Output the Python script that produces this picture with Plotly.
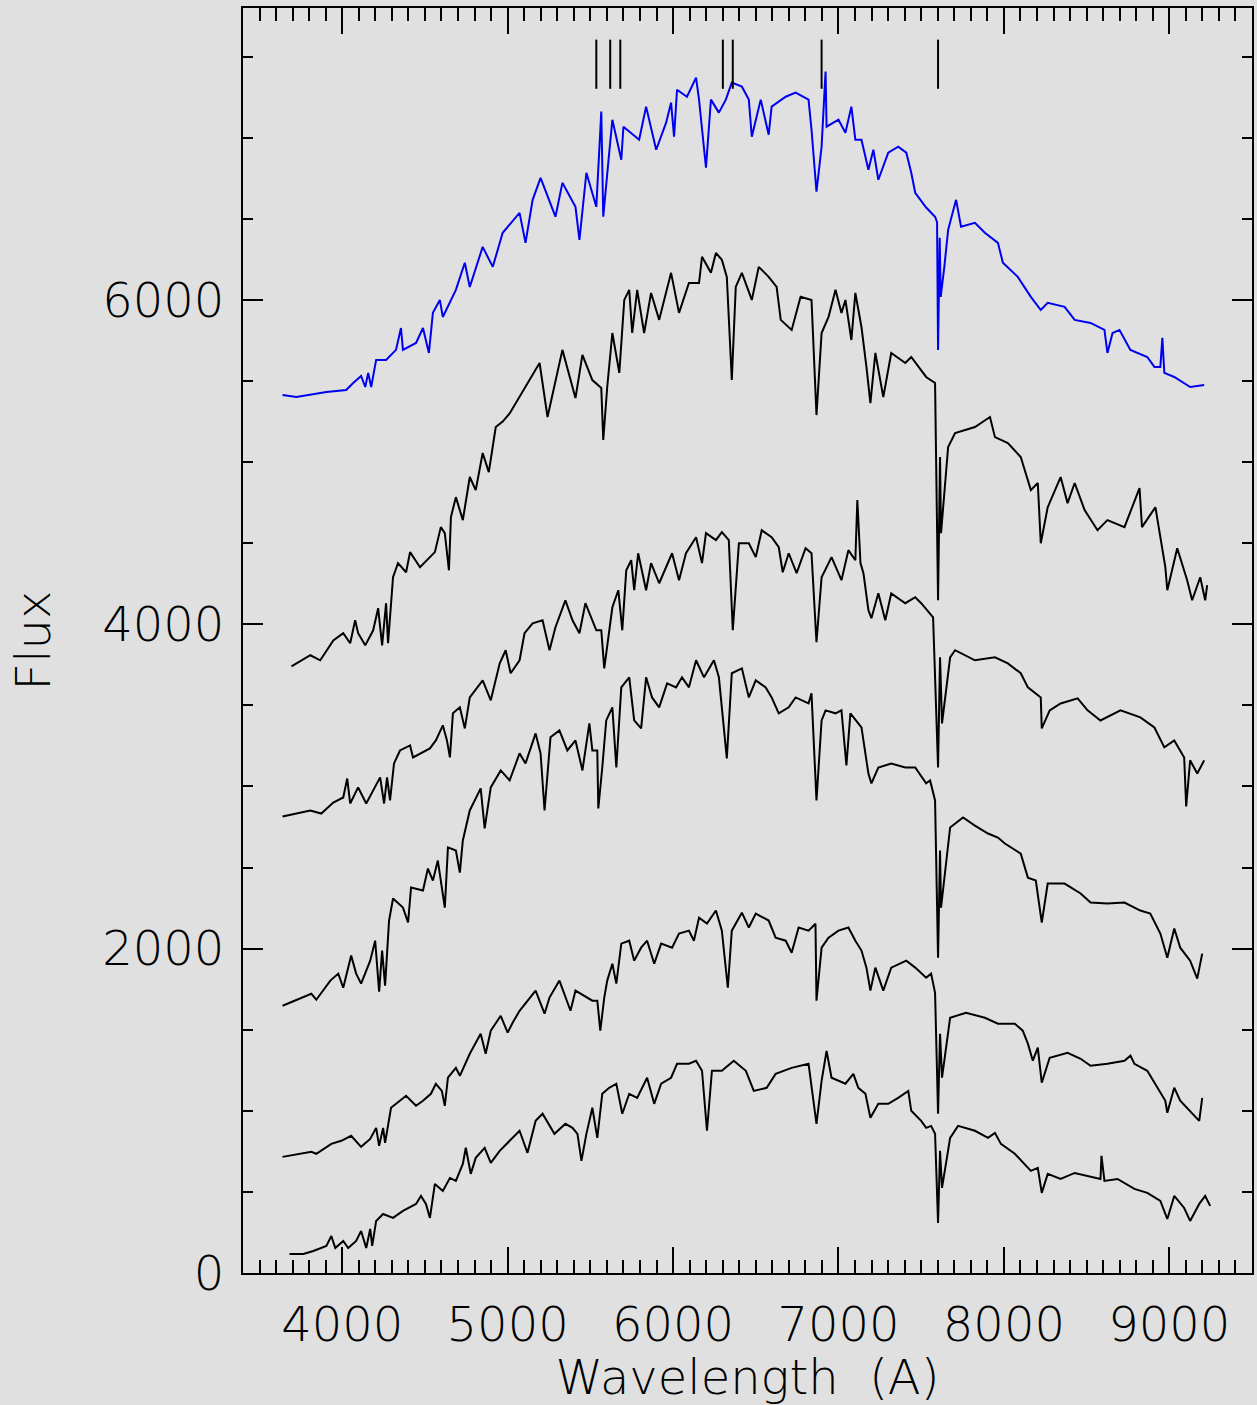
import plotly.graph_objects as go

# ---------------- data ----------------
wl_blue = [3639, 3723, 3904, 4024, 4066, 4114, 4139, 4157, 4175, 4205, 4265, 4325, 4355, 4367, 4446,
           4488, 4524, 4548, 4590, 4608, 4687, 4741, 4771, 4849, 4910, 4970, 5072, 5108, 5151, 5199,
           5289, 5331, 5410, 5434, 5476, 5536, 5566, 5578, 5614, 5633, 5687, 5700, 5795, 5837, 5898,
           5958, 5988, 6006, 6024, 6084, 6139, 6157, 6199, 6229, 6277, 6319, 6355, 6416, 6458, 6476,
           6530, 6578, 6596, 6681, 6741, 6819, 6837, 6867, 6898, 6922, 6928, 7000, 7042, 7078, 7102,
           7139, 7181, 7211, 7241, 7301, 7361, 7410, 7440, 7464, 7530, 7584, 7596, 7602, 7612, 7618,
           7640, 7663, 7711, 7741, 7825, 7885, 7964, 7994, 8084, 8163, 8223, 8265, 8367, 8428, 8524,
           8608, 8626, 8657, 8699, 8765, 8867, 8910, 8946, 8958, 8970, 9030, 9126, 9211]
flux_blue = [5414, 5401, 5432, 5445, 5488, 5531, 5463, 5550, 5463, 5630, 5630, 5692, 5827, 5692, 5735,
             5827, 5673, 5920, 6000, 5895, 6062, 6229, 6080, 6327, 6204, 6414, 6537, 6352, 6617, 6753,
             6513, 6722, 6574, 6370, 6784, 6574, 7161, 6513, 6908, 7111, 6864, 7068, 6988, 7192, 6926,
             7093, 7216, 7006, 7296, 7253, 7371, 7235, 6815, 7235, 7155, 7235, 7340, 7315, 7235, 7006,
             7235, 7019, 7192, 7253, 7278, 7235, 7050, 6667, 6945, 7408, 7068, 7111, 7031, 7192, 6988,
             6988, 6803, 6926, 6741, 6908, 6945, 6908, 6784, 6661, 6570, 6513, 6480, 5692, 6383, 6019,
             6204, 6432, 6617, 6451, 6475, 6414, 6352, 6229, 6142, 6019, 5938, 5982, 5957, 5877, 5858,
             5815, 5673, 5796, 5815, 5692, 5648, 5587, 5587, 5766, 5550, 5525, 5463, 5475]

wl_s1 = [3693, 3807, 3867, 3946, 4006, 4048, 4078, 4096, 4139, 4187, 4217, 4241, 4265, 4277, 4307,
         4337, 4386, 4410, 4470, 4560, 4596, 4620, 4645, 4657, 4687, 4729, 4771, 4807, 4849, 4886,
         4928, 4970, 5012, 5193, 5241, 5331, 5410, 5452, 5512, 5566, 5578, 5602, 5633, 5675, 5705,
         5735, 5753, 5783, 5825, 5867, 5916, 5988, 6036, 6096, 6157, 6175, 6229, 6259, 6295, 6325,
         6355, 6379, 6416, 6476, 6518, 6578, 6626, 6651, 6717, 6771, 6837, 6867, 6898, 6940, 6982,
         7018, 7042, 7078, 7102, 7139, 7169, 7193, 7223, 7271, 7319, 7404, 7440, 7530, 7584, 7602,
         7614, 7620, 7663, 7705, 7825, 7916, 7946, 8024, 8102, 8163, 8205, 8223, 8265, 8343, 8385,
         8428, 8488, 8566, 8626, 8729, 8820, 8835, 8916, 8946, 8976, 8988, 9048, 9108, 9138, 9187,
         9217, 9229]
flux_s1 = [3741, 3809, 3778, 3901, 3945, 3883, 4025, 3945, 3870, 3963, 4099, 3870, 4130, 3883, 4290,
           4377, 4321, 4445, 4352, 4445, 4599, 4562, 4333, 4661, 4784, 4642, 4908, 4827, 5056, 4938,
           5216, 5250, 5300, 5611, 5278, 5692, 5395, 5661, 5506, 5457, 5136, 5463, 5796, 5550, 6000,
           6062, 5796, 6062, 5796, 6043, 5877, 6167, 5920, 6105, 6105, 6266, 6167, 6290, 6247, 6142,
           5506, 6080, 6167, 6000, 6204, 6142, 6080, 5877, 5815, 6019, 6000, 5290, 5796, 5895, 6062,
           5920, 6000, 5753, 6043, 5833, 5587, 5364, 5673, 5401, 5673, 5611, 5648, 5525, 5488, 4148,
           5031, 4562, 5093, 5179, 5216, 5278, 5154, 5117, 5031, 4827, 4871, 4500, 4722, 4908, 4747,
           4871, 4704, 4580, 4642, 4599, 4840, 4599, 4722, 4537, 4352, 4210, 4469, 4272, 4148, 4290,
           4148, 4241]

wl_s2 = [3639, 3723, 3807, 3873, 3946, 4006, 4030, 4048, 4096, 4145, 4199, 4229, 4253, 4271, 4289,
         4313, 4349, 4410, 4428, 4530, 4566, 4608, 4633, 4651, 4669, 4711, 4741, 4771, 4849, 4898,
         4952, 4988, 5018, 5072, 5102, 5151, 5211, 5253, 5289, 5349, 5392, 5434, 5470, 5536, 5566,
         5584, 5633, 5669, 5693, 5717, 5747, 5765, 5789, 5837, 5867, 5916, 5994, 6036, 6078, 6139,
         6175, 6199, 6259, 6295, 6337, 6361, 6398, 6458, 6500, 6536, 6596, 6639, 6663, 6699, 6747,
         6801, 6837, 6867, 6898, 6958, 7018, 7060, 7102, 7114, 7133, 7151, 7181, 7199, 7241, 7283,
         7319, 7404, 7464, 7500, 7572, 7602, 7614, 7626, 7675, 7705, 7825, 7946, 8024, 8102, 8145,
         8223, 8229, 8277, 8343, 8446, 8506, 8584, 8705, 8825, 8910, 8970, 9030, 9090, 9102, 9126,
         9169, 9211]
flux_s2 = [2815, 2833, 2852, 2833, 2901, 2932, 3049, 2895, 2994, 2895, 2994, 3056, 2895, 3056, 2914,
           3142, 3222, 3253, 3179, 3235, 3284, 3377, 3284, 3179, 3451, 3488, 3358, 3549, 3654, 3531,
           3759, 3840, 3698, 3778, 3945, 4006, 4025, 3840, 3982, 4148, 4025, 3945, 4130, 3963, 3963,
           3728, 4105, 4210, 3963, 4333, 4395, 4210, 4438, 4210, 4377, 4253, 4438, 4272, 4438, 4537,
           4377, 4562, 4519, 4568, 4519, 3963, 4500, 4500, 4414, 4580, 4537, 4475, 4321, 4438, 4315,
           4469, 4438, 3889, 4290, 4414, 4272, 4457, 4395, 4766, 4377, 4315, 4087, 4037, 4191, 4025,
           4191, 4130, 4167, 4130, 4043, 3117, 3796, 3389, 3796, 3840, 3778, 3796, 3759, 3698, 3611,
           3549, 3358, 3469, 3512, 3543, 3469, 3407, 3469, 3426, 3364, 3241, 3284, 3179, 2877, 3161,
           3080, 3161]

wl_s3 = [3639, 3747, 3813, 3843, 3928, 3976, 4006, 4054, 4084, 4114, 4169, 4199, 4223, 4241, 4259,
         4283, 4307, 4367, 4398, 4416, 4488, 4518, 4548, 4578, 4620, 4639, 4687, 4711, 4729, 4771,
         4837, 4861, 4898, 4958, 5012, 5072, 5108, 5169, 5199, 5223, 5259, 5313, 5361, 5410, 5452,
         5494, 5512, 5542, 5548, 5572, 5596, 5633, 5657, 5687, 5735, 5765, 5807, 5837, 5873, 5916,
         5964, 6018, 6054, 6096, 6139, 6187, 6247, 6277, 6325, 6355, 6416, 6458, 6500, 6560, 6596,
         6639, 6699, 6741, 6819, 6837, 6867, 6898, 6922, 6982, 7018, 7048, 7072, 7139, 7181, 7199,
         7241, 7319, 7404, 7464, 7530, 7554, 7584, 7602, 7614, 7620, 7675, 7753, 7825, 7904, 7964,
         8006, 8102, 8145, 8193, 8229, 8265, 8367, 8464, 8524, 8626, 8729, 8825, 8885, 8946, 8988,
         9030, 9066, 9126, 9169, 9199]
flux_s3 = [1648, 1691, 1722, 1685, 1803, 1846, 1759, 1957, 1846, 1784, 1926, 2049, 1735, 1988, 1772,
           2173, 2309, 2253, 2161, 2377, 2358, 2494, 2420, 2543, 2253, 2624, 2605, 2469, 2667, 2852,
           2988, 2741, 2994, 3099, 3037, 3204, 3142, 3327, 3204, 2852, 3303, 3346, 3222, 3284, 3099,
           3389, 3222, 3222, 2864, 3117, 3407, 3488, 3117, 3611, 3673, 3407, 3358, 3673, 3549, 3488,
           3636, 3611, 3673, 3611, 3778, 3673, 3778, 3673, 3173, 3698, 3728, 3549, 3654, 3611, 3549,
           3451, 3488, 3549, 3512, 3574, 2914, 3407, 3469, 3451, 3469, 3130, 3451, 3364, 3080, 3019,
           3117, 3142, 3117, 3117, 3019, 3037, 2914, 1944, 2605, 2253, 2747, 2809, 2759, 2710, 2685,
           2648, 2586, 2438, 2420, 2161, 2401, 2401, 2340, 2284, 2278, 2284, 2235, 2216, 2093, 1944,
           2124, 2006, 1926, 1815, 1969]

wl_s4 = [3639, 3747, 3813, 3843, 3934, 3994, 4054, 4114, 4169, 4205, 4223, 4247, 4259, 4295, 4325,
         4386, 4446, 4488, 4536, 4566, 4602, 4620, 4639, 4687, 4711, 4771, 4837, 4867, 4898, 4958,
         5000, 5030, 5072, 5108, 5169, 5223, 5253, 5313, 5380, 5410, 5476, 5512, 5542, 5560, 5584,
         5602, 5633, 5657, 5687, 5735, 5765, 5807, 5843, 5886, 5928, 5994, 6036, 6096, 6126, 6157,
         6205, 6259, 6277, 6295, 6331, 6355, 6416, 6458, 6500, 6578, 6620, 6681, 6717, 6759, 6819,
         6861, 6867, 6898, 6940, 7000, 7060, 7102, 7139, 7169, 7193, 7223, 7271, 7319, 7410, 7464,
         7530, 7560, 7584, 7602, 7614, 7626, 7675, 7771, 7885, 7964, 8066, 8114, 8145, 8175, 8205,
         8229, 8277, 8385, 8464, 8524, 8626, 8729, 8765, 8789, 8867, 8928, 8976, 8988, 9030, 9066,
         9126, 9181, 9199]
flux_s4 = [716, 735, 747, 735, 796, 815, 846, 778, 827, 895, 784, 895, 802, 1019, 1043,
           1093, 1031, 1062, 1105, 1167, 1123, 1031, 1204, 1265, 1216, 1352, 1475, 1352, 1494, 1586,
           1482, 1543, 1617, 1661, 1741, 1599, 1698, 1803, 1617, 1741, 1698, 1679, 1679, 1494, 1698,
           1803, 1907, 1784, 2031, 2049, 1926, 2006, 2049, 1907, 2031, 2006, 2093, 2111, 2049, 2191,
           2154, 2235, 2173, 2111, 1759, 2111, 2222, 2130, 2216, 2173, 2068, 2049, 1975, 2130, 2111,
           2154, 1679, 2006, 2068, 2111, 2130, 2049, 1988, 1883, 1741, 1883, 1741, 1883, 1926, 1883,
           1821, 1846, 1728, 982, 1475, 1204, 1574, 1605, 1574, 1537, 1537, 1494, 1414, 1309, 1389,
           1173, 1327, 1358, 1321, 1278, 1290, 1309, 1340, 1290, 1247, 1142, 1062, 988, 1142, 1062,
           1000, 938, 1080]

wl_s5 = [3681, 3765, 3825, 3904, 3934, 3958, 4006, 4036, 4084, 4114, 4145, 4169, 4181, 4205, 4247,
         4307, 4367, 4446, 4476, 4506, 4530, 4560, 4608, 4651, 4687, 4729, 4747, 4777, 4807, 4861,
         4898, 4952, 5012, 5072, 5120, 5169, 5211, 5283, 5349, 5392, 5422, 5446, 5476, 5512, 5542,
         5572, 5614, 5657, 5693, 5735, 5783, 5843, 5886, 5928, 5988, 6024, 6096, 6139, 6175, 6205,
         6235, 6295, 6367, 6440, 6488, 6566, 6620, 6717, 6819, 6867, 6898, 6928, 6958, 7042, 7090,
         7120, 7163, 7193, 7241, 7301, 7361, 7422, 7440, 7500, 7530, 7560, 7584, 7602, 7614, 7626,
         7675, 7723, 7825, 7904, 7946, 7982, 8066, 8126, 8163, 8205, 8229, 8265, 8343, 8428, 8506,
         8584, 8590, 8608, 8687, 8789, 8867, 8946, 8988, 9030, 9090, 9126, 9181, 9217, 9247]
flux_s5 = [117, 117, 136, 167, 228, 154, 198, 154, 198, 259, 154, 272, 167, 321, 364,
           340, 383, 426, 475, 426, 340, 549, 506, 586, 568, 673, 772, 611, 710, 772,
           679, 753, 815, 877, 741, 938, 982, 858, 920, 895, 858, 691, 858, 1019, 833,
           1105, 1142, 1167, 982, 1105, 1080, 1204, 1043, 1167, 1204, 1290, 1290, 1309, 1247, 877,
           1247, 1247, 1309, 1247, 1123, 1142, 1228, 1265, 1290, 920, 1185, 1370, 1204, 1167, 1228,
           1142, 1105, 957, 1043, 1043, 1080, 1123, 1000, 938, 895, 907, 858, 309, 753, 525,
           833, 907, 877, 833, 864, 796, 735, 673, 630, 648, 494, 611, 580, 617, 599,
           580, 722, 568, 580, 519, 494, 444, 333, 475, 401, 321, 426, 475, 414]

# positions of the identified features marked above the spectra
feature_wl = [5536, 5620, 5681, 6301, 6361, 6898, 7602]
feature_flux_range = [7302, 7605]

x_range = [3400, 9500]
y_range = [0, 7800]

# ---------------- figure ----------------
fig = go.Figure()

black_sets = [(wl_s1, flux_s1), (wl_s2, flux_s2), (wl_s3, flux_s3),
              (wl_s4, flux_s4), (wl_s5, flux_s5)]
for wl, fl in black_sets:
    fig.add_trace(go.Scatter(x=wl, y=fl, mode="lines",
                             line=dict(color="black", width=2),
                             showlegend=False, hoverinfo="skip"))

fig.add_trace(go.Scatter(x=wl_blue, y=flux_blue, mode="lines",
                         line=dict(color="#0000f0", width=2),
                         showlegend=False, hoverinfo="skip"))

mx, my = [], []
for w in feature_wl:
    mx += [w, w, None]
    my += [feature_flux_range[0], feature_flux_range[1], None]
fig.add_trace(go.Scatter(x=mx, y=my, mode="lines",
                         line=dict(color="black", width=2),
                         showlegend=False, hoverinfo="skip"))

bg = "#e0e0e0"
tick_font = dict(family="DejaVu Sans", size=48, color="black", weight=200)

fig.update_layout(
    width=1257, height=1405,
    margin=dict(l=243, r=3, t=8, b=132),
    paper_bgcolor=bg, plot_bgcolor=bg,
    showlegend=False,
)

fig.update_xaxes(
    range=x_range, showgrid=False, zeroline=False,
    showline=True, linecolor="black", linewidth=2, mirror="allticks",
    ticks="inside", ticklen=26, tickwidth=1.5, tickcolor="black",
    tick0=0, dtick=1000,
    minor=dict(ticks="inside", ticklen=13, tickwidth=1.5, tickcolor="black", dtick=100, showgrid=False),
    tickfont=tick_font, ticklabelstandoff=8,
    title=dict(text="Wavelength  (A)", font=tick_font, standoff=12),
)
fig.update_yaxes(
    range=y_range, showgrid=False, zeroline=False,
    showline=True, linecolor="black", linewidth=2, mirror="allticks",
    ticks="inside", ticklen=20, tickwidth=1.5, tickcolor="black",
    tick0=0, dtick=2000,
    minor=dict(ticks="inside", ticklen=10, tickwidth=1.5, tickcolor="black", dtick=500, showgrid=False),
    tickfont=tick_font, ticklabelstandoff=7,
    title=dict(text="Flux", font=tick_font, standoff=36),
)

fig.write_html(
    "out.html",
    config={"displayModeBar": False},
    post_script="document.body.style.margin='0';document.body.style.background='#e0e0e0';",
)
